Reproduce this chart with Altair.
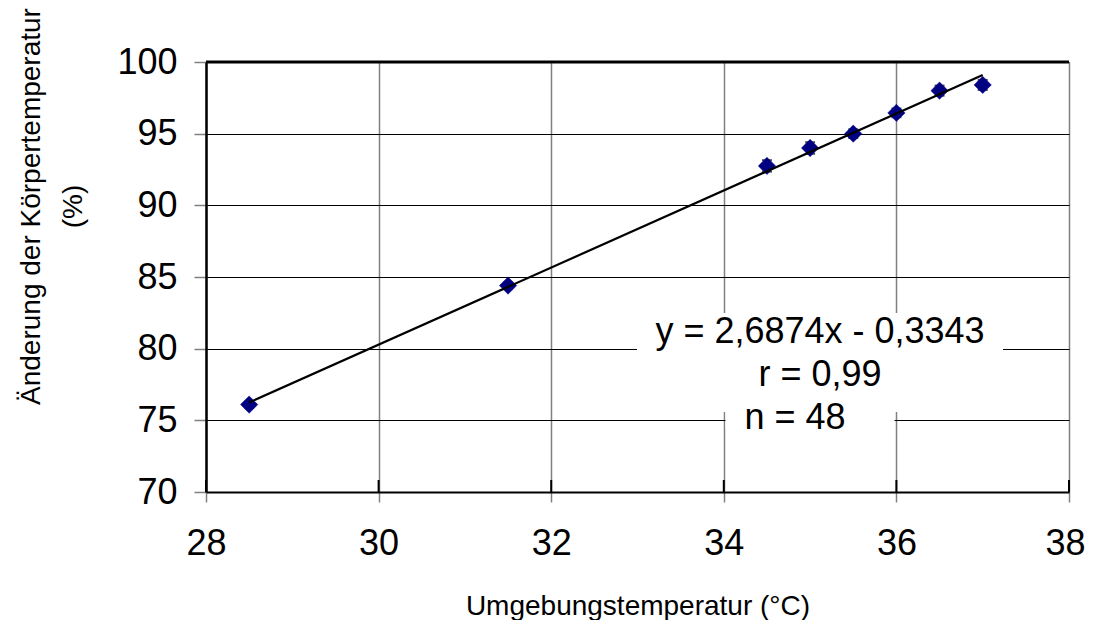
import altair as alt
import pandas as pd

# --- data ---
x_vals = [28.5, 31.5, 34.5, 35.0, 35.5, 36.0, 36.5, 37.0]
y_vals = [76.1, 84.4, 92.75, 94.0, 95.0, 96.45, 98.0, 98.4]
y_err = [0.2, 0.2, 0.4, 0.4, 0.3, 0.3, 0.35, 0.35]

trend_x = [28.5, 37.0]
trend_y = [76.25, 99.1]

x_ticks = [28, 30, 32, 34, 36, 38]
y_ticks = [70, 75, 80, 85, 90, 95, 100]

eq_label = "y = 2,6874x - 0,3343"
r_label = "r = 0,99"
n_label = "n = 48"

x_title = "Umgebungstemperatur (°C)"
y_title = ["Änderung der Körpertemperatur", "(%)"]

FONT = "Liberation Sans"

pts = pd.DataFrame({
    "x": x_vals,
    "y": y_vals,
    "lo": [v - e for v, e in zip(y_vals, y_err)],
    "hi": [v + e for v, e in zip(y_vals, y_err)],
})
trend = pd.DataFrame({"x": trend_x, "y": trend_y})
xt = pd.DataFrame({"x": x_ticks})

xscale = alt.Scale(domain=[28, 38], nice=False, zero=False)
yscale = alt.Scale(domain=[70, 100], nice=False, zero=False)

xaxis = alt.Axis(
    values=x_ticks, title=x_title, grid=True, gridColor="#808080", gridWidth=1.5,
    domainColor="black", domainWidth=2, tickColor="#808080", tickSize=10, tickWidth=1.5,
    labelFontSize=36, labelFont=FONT, labelColor="black", labelPadding=24,
    labelFlush=False, labelOverlap=False, format="d",
    labelOffset={"condition": {"test": "datum.value === 38", "value": -4}, "value": 0},
    titleFontSize=28, titleFont=FONT, titleFontWeight="normal", titleColor="black",
    titleY=122, titleBaseline="alphabetic",
)
yaxis = alt.Axis(
    values=y_ticks, title=y_title, grid=True, gridColor="black", gridWidth=1,
    domainColor="black", domainWidth=2.5, tickColor="#808080", tickSize=12, tickWidth=1.5,
    labelFontSize=36, labelFont=FONT, labelColor="black", labelPadding=17,
    labelFlush=False, labelOverlap=False, format="d",
    titleFontSize=28, titleFont=FONT, titleFontWeight="normal", titleColor="black",
    titleAngle=270, titleX=-167, titleY=144, titleAlign="center",
    titleBaseline="alphabetic", titleLineHeight=42,
)

X = alt.X("x:Q", scale=xscale, axis=xaxis)

one = pd.DataFrame({"a": [0]})

box1 = alt.Chart(one).mark_rect(color="white").encode(
    x=alt.value(431), x2=alt.value(797), y=alt.value(251), y2=alt.value(350))
box2 = alt.Chart(one).mark_rect(color="white").encode(
    x=alt.value(519.5), x2=alt.value(688.5), y=alt.value(350), y2=alt.value(366))

inner_ticks = alt.Chart(xt).mark_rule(color="black", strokeWidth=2).encode(
    x=X, y=alt.value(418), y2=alt.value(430))

err = alt.Chart(pts).mark_rule(color="black", strokeWidth=1.5).encode(
    x=X, y=alt.Y("lo:Q", scale=yscale, axis=yaxis), y2="hi:Q")
cap_lo = alt.Chart(pts).mark_tick(orient="horizontal", size=10, thickness=2, color="black").encode(
    x=X, y=alt.Y("lo:Q", scale=yscale, axis=yaxis))
cap_hi = alt.Chart(pts).mark_tick(orient="horizontal", size=10, thickness=2, color="black").encode(
    x=X, y=alt.Y("hi:Q", scale=yscale, axis=yaxis))

points = alt.Chart(pts).mark_point(
    shape="diamond", filled=True, size=300, color="#000080", stroke="#000090",
    strokeWidth=0.5, opacity=1).encode(
    x=X, y=alt.Y("y:Q", scale=yscale, axis=yaxis))

line = alt.Chart(trend).mark_line(color="black", strokeWidth=2.2).encode(
    x=X, y=alt.Y("y:Q", scale=yscale, axis=yaxis))

top_rule = alt.Chart(one).mark_rule(color="black", strokeWidth=3).encode(
    y=alt.datum(100, scale=yscale))

def label(txt, px, py):
    return alt.Chart(pd.DataFrame({"t": [txt]})).mark_text(
        font=FONT, fontSize=36, color="black", align="center", baseline="middle").encode(
        text="t:N", x=alt.value(px), y=alt.value(py))

t1 = label(eq_label, 614, 270)
t2 = label(r_label, 614, 313)
t3 = label(n_label, 589, 356)

chart = alt.layer(
    box1, box2, inner_ticks, err, cap_lo, cap_hi, points, line, top_rule, t1, t2, t3
).properties(
    width=863, height=430,
    autosize=alt.AutoSizeParams(type="none"),
    padding={"left": 198, "top": 54, "right": 16, "bottom": 128},
).configure(font=FONT).configure_view(stroke=None)

chart.save("out.html", embed_options={"renderer": "svg", "actions": False})
